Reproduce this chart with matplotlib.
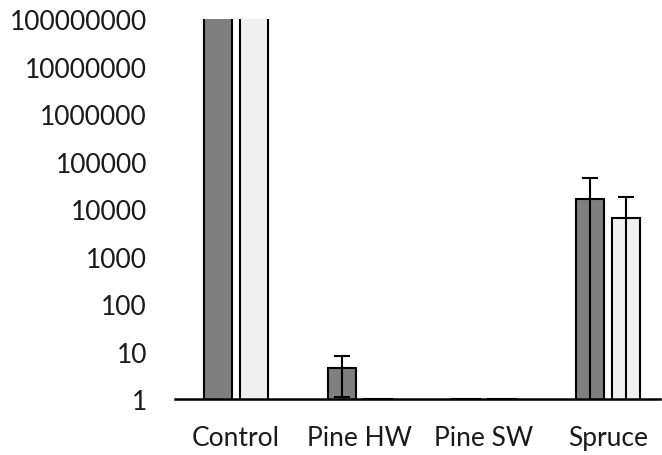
import matplotlib
matplotlib.use('Agg')
import matplotlib.pyplot as plt
import numpy as np

# data
categories = ["Control", "Pine HW", "Pine SW", "Spruce"]
dark_vals = [1e9, 4.6, 1, 16000]
dark_err = [0, 3.5, 0, 29000]
light_vals = [1e9, 1, 1, 6400]
light_err = [0, 0, 0, 11600]
y_ticks = [1, 10, 100, 1000, 10000, 100000, 1000000, 10000000, 100000000]

plt.rcParams['font.family'] = ['Lato', 'DejaVu Sans']

fig = plt.figure(figsize=(6.62, 4.56), dpi=100)
ax = fig.add_axes([0.264, 0.1228, 0.733, 0.8333])

x = np.arange(len(categories))
w = 0.226
off = 0.145

ax.bar(x - off, dark_vals, w, color='#7f7f7f', edgecolor='black', linewidth=1.5, zorder=2)
ax.bar(x + off, light_vals, w, color='#f0f0f0', edgecolor='black', linewidth=1.5, zorder=2)

# error bars only where there is one
for i in range(len(categories)):
    if dark_err[i] > 0:
        ax.errorbar(x[i] - off, dark_vals[i], yerr=dark_err[i], fmt='none',
                    ecolor='black', elinewidth=1.5, capsize=5.5, capthick=1.5, zorder=3)
    if light_err[i] > 0:
        ax.errorbar(x[i] + off, light_vals[i], yerr=light_err[i], fmt='none',
                    ecolor='black', elinewidth=1.5, capsize=5.5, capthick=1.5, zorder=3)

ax.set_yscale('log')
ax.set_ylim(1, 1e8)
ax.set_xlim(-0.49, 3.42)
ax.set_yticks(y_ticks)
ax.set_yticklabels([str(t) for t in y_ticks])
ax.minorticks_off()
ax.set_xticks(x)
ax.set_xticklabels(categories)
ax.tick_params(axis='both', length=0, labelsize=19, colors='#1a1a1a')
ax.tick_params(axis='y', pad=20)
ax.tick_params(axis='x', pad=19)

for s in ['top', 'right', 'left']:
    ax.spines[s].set_visible(False)
ax.spines['bottom'].set_linewidth(1.8)
ax.spines['bottom'].set_zorder(4)

fig.savefig('out.png', dpi=100)
